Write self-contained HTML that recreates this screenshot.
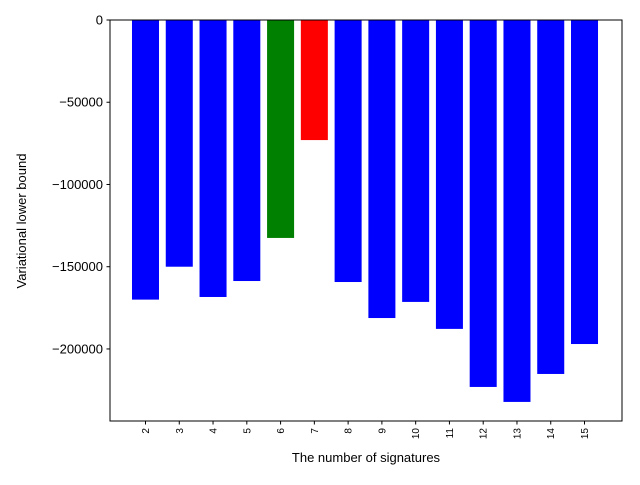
<!DOCTYPE html>
<html><head><meta charset="utf-8"><style>
body{margin:0;background:#fff;}
svg{font-family:"Liberation Sans","DejaVu Sans",sans-serif;}
</style></head><body>
<svg id="chart" width="640" height="480" xmlns="http://www.w3.org/2000/svg">
<rect x="0" y="0" width="640" height="480" fill="#fff"/>
<g id="bars"></g>
<rect x="110" y="20" width="512" height="401" fill="none" stroke="#000" stroke-width="1"/>
<g id="yticks"></g>
<g id="xticks"></g>
<text x="366" y="462" font-size="13" text-anchor="middle">The number of signatures</text>
<text transform="translate(26,221) rotate(-90)" font-size="13" text-anchor="middle">Variational lower bound</text>
</svg>
<script>
const categories=[2,3,4,5,6,7,8,9,10,11,12,13,14,15];
const values=[-170000,-150000,-168400,-158700,-132500,-73000,-159300,-181200,-171400,-187800,-223100,-232200,-215200,-197000];
const colors=["blue","blue","blue","blue","green","red","blue","blue","blue","blue","blue","blue","blue","blue"];
const yTicks=[0,-50000,-100000,-150000,-200000];
const yTickLabels=["0","\u221250000","\u2212100000","\u2212150000","\u2212200000"];
const NS="http://www.w3.org/2000/svg";
const yMin=-243800,yMax=0,plotTop=20,plotBottom=421;
function y(v){return plotTop+(yMax-v)/(yMax-yMin)*(plotBottom-plotTop);}
function x(c){return 145.5+(c-2)*33.77;}
const bw=0.8*33.77;
const gb=document.getElementById('bars');
categories.forEach((c,i)=>{
 const r=document.createElementNS(NS,'rect');
 
 
 const y0=y(0),y1=y(values[i]);
 r.setAttribute('x',x(c)-bw/2);r.setAttribute('y',Math.min(y0,y1));
 r.setAttribute('width',bw);r.setAttribute('height',Math.abs(y1-y0));
 r.setAttribute('fill',colors[i]);gb.appendChild(r);
});
const gy=document.getElementById('yticks');
yTicks.forEach((t,i)=>{
 const l=document.createElementNS(NS,'line');
 
 
 l.setAttribute('x1',106.5);l.setAttribute('x2',110);l.setAttribute('y1',y(t));l.setAttribute('y2',y(t));l.setAttribute('stroke','#000');gy.appendChild(l);
 const tx=document.createElementNS(NS,'text');
 
 
 tx.setAttribute('x',103);tx.setAttribute('y',y(t)+4.5);tx.setAttribute('font-size','13');tx.setAttribute('text-anchor','end');tx.textContent=yTickLabels[i];gy.appendChild(tx);
});
const gx=document.getElementById('xticks');
categories.forEach(c=>{
 const l=document.createElementNS(NS,'line');
 
 
 l.setAttribute('x1',x(c));l.setAttribute('x2',x(c));l.setAttribute('y1',421);l.setAttribute('y2',424.5);l.setAttribute('stroke','#000');gx.appendChild(l);
 const tx=document.createElementNS(NS,'text');
 
 
 tx.setAttribute('transform','translate('+(x(c)+3.5)+',428) rotate(-90)');
 tx.setAttribute('font-size','10');tx.setAttribute('text-anchor','end');tx.textContent=c;gx.appendChild(tx);
});
</script>
</body></html>
